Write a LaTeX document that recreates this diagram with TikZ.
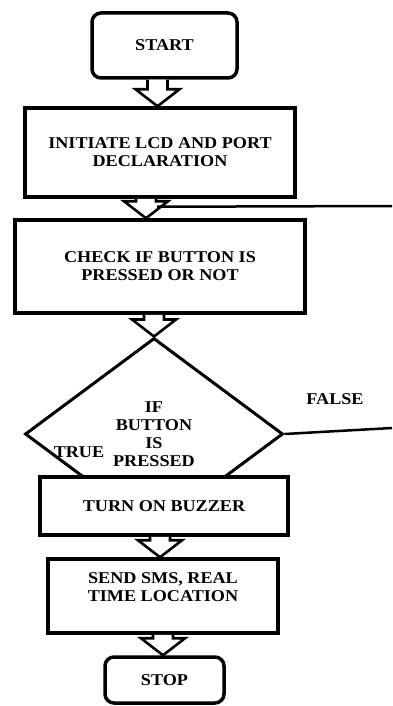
\documentclass[tikz,border=0pt]{standalone}
\usepackage{fontspec}
\setmainfont{Liberation Serif}[FakeStretch=1.1]
\usetikzlibrary{shapes.geometric,calc}

\tikzset{
  flowbox/.style={draw, line width=3.5pt, fill=white, align=center, inner sep=0pt},
  termbox/.style={flowbox, rounded corners=9pt},
  decbox/.style={draw, diamond, line width=3pt, align=center, inner sep=0pt},
  blockarr/.style={draw, fill=white, line width=2.6pt, line join=miter},
  flowline/.style={line width=2.5pt},
  lbl/.style={inner sep=0pt}
}
% hollow block arrow straight down from #1 to the level of #2
\newcommand{\blockarrow}[2]{%
  \path[blockarr] let \p1=(#1), \p2=(#2) in
    (\x1-10pt,\y1) -- (\x1-10pt,\y2+17pt) -- (\x1-22pt,\y2+17pt) -- (\x1,\y2)
    -- (\x1+22pt,\y2+17pt) -- (\x1+10pt,\y2+17pt) -- (\x1+10pt,\y1);}

\begin{document}
\begin{tikzpicture}[x=1pt, y=-1pt, font=\bfseries\fontsize{16.5}{18}\selectfont]
	\useasboundingbox (0,0) rectangle (392,706);
	% decision first, its lower corner hides behind the buzzer box
	\node[decbox, minimum width=258pt, minimum height=192pt] (decide) at (154,434) {IF\\BUTTON\\IS\\PRESSED};
	\node[termbox, minimum width=145pt, minimum height=65pt] (start) at (164.5,45.5) {START};
	\node[flowbox, minimum width=270pt, minimum height=89pt] (init) at (160,152.5) {INITIATE LCD AND PORT\\DECLARATION};
	\node[flowbox, minimum width=290pt, minimum height=93pt] (check) at (160,266.5) {CHECK IF BUTTON IS\\PRESSED OR NOT};
	\node[flowbox, minimum width=248pt, minimum height=58pt] (buzzer) at (164,506) {TURN ON BUZZER};
	\node[flowbox, minimum width=230pt, minimum height=74pt] (sms) at (163,596) {SEND SMS, REAL\\TIME LOCATION\\\mbox{}};
	\node[termbox, minimum width=119pt, minimum height=46pt] (stop) at (164.5,680) {STOP};
	\node[lbl] (true) at (79,452) {TRUE};
	\node[lbl] (false) at (335,399) {FALSE};
	% arrows
	\blockarrow{[xshift=-7pt]start.south}{init.north}
	\blockarrow{[xshift=-14pt]init.south}{check.north}
	\blockarrow{[xshift=-6pt]check.south}{decide.north}
	\blockarrow{[xshift=-4pt]buzzer.south}{sms.north}
	\blockarrow{sms.south}{stop.north}
	% lines running off to the right
	\coordinate (loopin) at ($(init.south)+(-3pt,-8pt)$);
	\coordinate (loopend) at (392,206);
	\coordinate (falseend) at (392,428);
	\draw[flowline] (loopin) -- (loopend);
	\draw[flowline] (decide.east) -- (falseend);
\end{tikzpicture}
\end{document}
